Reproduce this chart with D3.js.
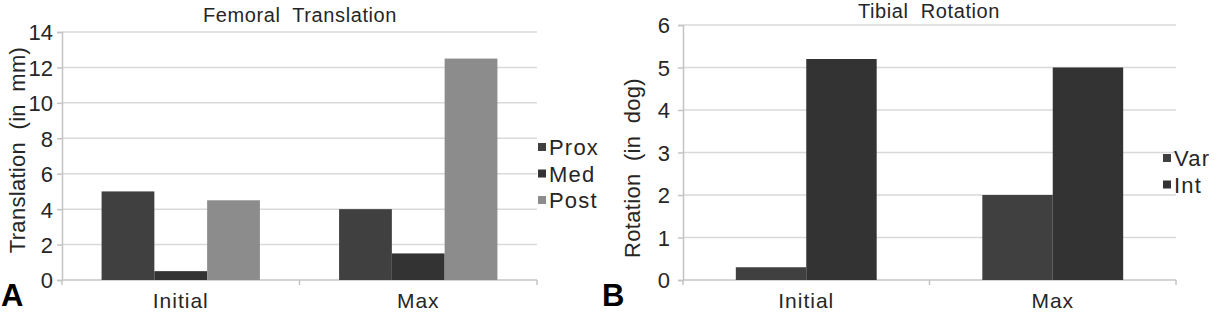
<!DOCTYPE html>
<html>
<head>
<meta charset="utf-8">
<script src="https://cdn.jsdelivr.net/npm/d3@7"></script>
<style>
  body { margin: 0; background: #fff; }
  svg { display: block; font-family: "Liberation Sans", Arial, Helvetica, sans-serif; }
</style>
</head>
<body>
<div id="plot"></div>
<script>
// data
var categories = ["Initial", "Max"];

var femSeries = ["Prox", "Med", "Post"];
var femProx = [5, 4];
var femMed = [0.5, 1.5];
var femPost = [4.5, 12.5];
var femTicks = [0, 2, 4, 6, 8, 10, 12, 14];

var tibSeries = ["Var", "Int"];
var tibVar = [0.3, 2];
var tibInt = [5.2, 5];
var tibTicks = [0, 1, 2, 3, 4, 5, 6];

var width = 1224, height = 315;

var svg = d3.select("#plot").append("svg")
  .attr("width", width).attr("height", height);

function drawPanel(p) {
  var g = svg.append("g");

  var x0 = d3.scaleBand().domain(categories).range([p.left, p.right]);
  var x1 = d3.scaleBand().domain(p.series).range([0, x0.bandwidth()]).paddingOuter(0.75);
  var y = d3.scaleLinear().domain([0, p.max]).range([p.bottom, p.top]);

  // gridlines
  g.selectAll(".grid").data(p.ticks.filter(function(t){ return t > 0; })).enter().append("line")
    .attr("x1", p.left).attr("x2", p.right)
    .attr("y1", function(d){ return y(d); }).attr("y2", function(d){ return y(d); })
    .attr("stroke", "#d9d9d9").attr("stroke-width", 1.5);

  // y axis
  var ya = g.append("g").attr("transform", "translate(" + p.left + ",0)")
    .call(d3.axisLeft(y).tickValues(p.ticks).tickFormat(d3.format("d")).tickSize(5).tickPadding(p.tickPad));
  ya.select(".domain").attr("stroke", "#c4c4c4").attr("stroke-width", 1.5);
  ya.selectAll(".tick line").attr("stroke", "#c4c4c4").attr("stroke-width", 1.5);
  ya.selectAll("text").attr("font-size", "22px").attr("fill", "#262626").attr("dy", "0.36em")
    .attr("font-family", "Liberation Sans, Arial, sans-serif");

  // x axis
  var xa = g.append("g").attr("transform", "translate(0," + p.bottom + ")");
  xa.append("line").attr("x1", p.left).attr("x2", p.right)
    .attr("stroke", "#c4c4c4").attr("stroke-width", 1.5);
  var edges = [p.left].concat(categories.map(function(c){ return x0(c) + x0.bandwidth(); }));
  xa.selectAll(".edge").data(edges).enter().append("line")
    .attr("x1", function(d){ return d; }).attr("x2", function(d){ return d; })
    .attr("y1", 0).attr("y2", 5)
    .attr("stroke", "#c4c4c4").attr("stroke-width", 1.5);
  xa.selectAll(".cat").data(categories).enter().append("text")
    .attr("x", function(d){ return x0(d) + x0.bandwidth() / 2; })
    .attr("y", 28)
    .attr("text-anchor", "middle")
    .attr("font-size", "21px").attr("letter-spacing", "1px").attr("fill", "#262626")
    .text(function(d){ return d; });

  // bars
  p.series.forEach(function(s, si) {
    g.selectAll(".bar-" + s).data(p.values[si]).enter().append("rect")
      .attr("x", function(d, i){ return x0(categories[i]) + x1(s); })
      .attr("y", function(d){ return y(d); })
      .attr("width", x1.bandwidth())
      .attr("height", function(d){ return y(0) - y(d); })
      .attr("fill", p.colors[si]);
  });

  // title
  g.append("text").attr("x", p.titleX).attr("y", p.titleY)
    .attr("text-anchor", "middle").attr("font-size", "20px").attr("fill", "#262626")
    .attr("letter-spacing", "0.6px").attr("word-spacing", "6px")
    .text(p.title);

  // y axis title
  g.append("text")
    .attr("transform", "translate(" + p.ytX + "," + p.ytY + ") rotate(-90)")
    .attr("text-anchor", "middle").attr("font-size", "22px").attr("fill", "#262626")
    .attr("letter-spacing", "0.3px").attr("word-spacing", "6px")
    .text(p.ytitle);

  // legend
  var lg = g.selectAll(".leg").data(p.series).enter().append("g")
    .attr("transform", function(d, i){ return "translate(" + p.legX + "," + (p.legY + i * p.legStep) + ")"; });
  lg.append("rect").attr("x", 0).attr("y", -4).attr("width", 8).attr("height", 8)
    .attr("fill", function(d, i){ return p.colors[i]; });
  lg.append("text").attr("x", 11).attr("y", 8)
    .attr("font-size", "22px").attr("letter-spacing", "1.2px").attr("fill", "#262626")
    .text(function(d){ return d; });

  // panel letter
  g.append("text").attr("x", p.letterX).attr("y", 306)
    .attr("font-size", "31px").attr("font-weight", "bold").attr("fill", "#000")
    .text(p.letter);
}

drawPanel({
  left: 62, right: 537, top: 32, bottom: 280, max: 14, ticks: femTicks, tickPad: 4,
  series: femSeries, values: [femProx, femMed, femPost],
  colors: ["#404040", "#333333", "#8c8c8c"],
  title: "Femoral Translation", titleX: 300, titleY: 22,
  ytitle: "Translation (in mm)", ytX: 25, ytY: 150,
  legX: 538, legY: 147, legStep: 26.5,
  letter: "A", letterX: 1
});

drawPanel({
  left: 683, right: 1176, top: 25, bottom: 280, max: 6, ticks: tibTicks, tickPad: 8,
  series: tibSeries, values: [tibVar, tibInt],
  colors: ["#404040", "#333333"],
  title: "Tibial Rotation", titleX: 929, titleY: 18,
  ytitle: "Rotation (in dog)", ytX: 640, ytY: 168,
  legX: 1163, legY: 158, legStep: 26.5,
  letter: "B", letterX: 602
});
</script>
</body>
</html>
